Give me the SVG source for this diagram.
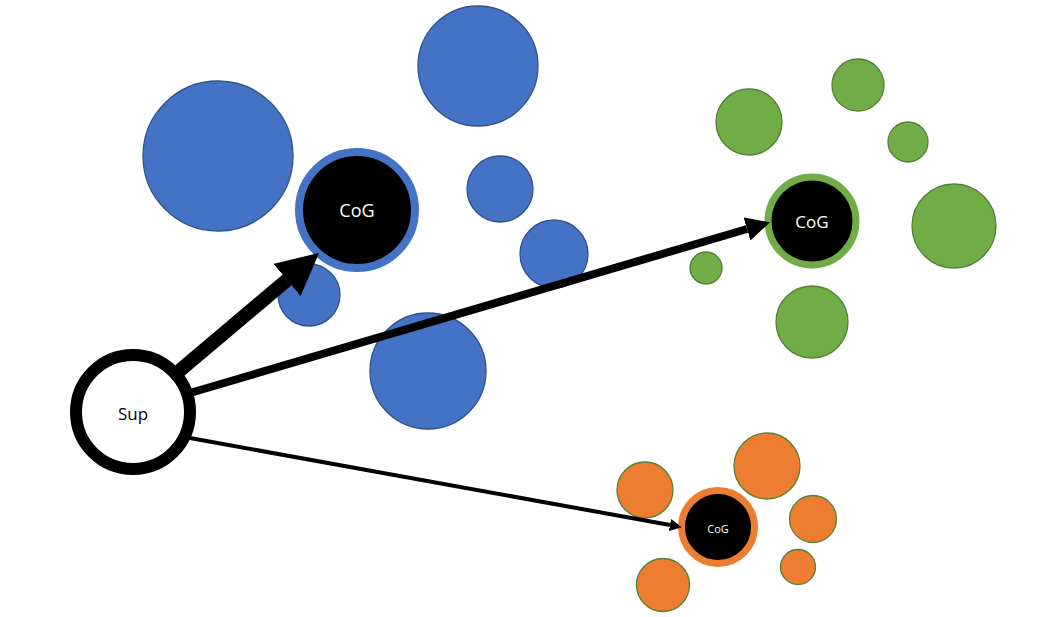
<svg xmlns="http://www.w3.org/2000/svg" width="1041" height="617" viewBox="0 0 1041 617">
<style>
.b{fill:#4472C4;stroke:#2F528F;stroke-width:1.3}
.g{fill:#70AD47;stroke:#507E32;stroke-width:1.3}
.o{fill:#ED7D31;stroke:#548235;stroke-width:1.3}
.cog{fill:#000}
.t{font-family:"Open Sans","Liberation Sans",sans-serif;text-anchor:middle;dominant-baseline:central}
.w{fill:#fff}
.k{fill:#000}
.c{stroke:#000;fill:none;stroke-linecap:butt}
</style>
<defs>
<marker id="ah" viewBox="0 0 3 3" markerWidth="3" markerHeight="3" refX="0" refY="1.5" orient="auto" markerUnits="strokeWidth">
<path d="M0,0 L3,1.5 L0,3 Z" fill="#000"/>
</marker>
</defs>
<g id="blue-cluster">
<circle class="b" cx="218" cy="156" r="75"/>
<circle class="b" cx="478" cy="66" r="60"/>
<circle class="b" cx="500" cy="189" r="33"/>
<circle class="b" cx="554" cy="254" r="34"/>
<circle class="b" cx="309" cy="295" r="31"/>
<circle class="b" cx="428" cy="371" r="58"/>
</g>
<g id="green-cluster">
<circle class="g" cx="749" cy="122" r="33"/>
<circle class="g" cx="858" cy="85" r="26"/>
<circle class="g" cx="908" cy="142" r="20"/>
<circle class="g" cx="954" cy="226" r="42"/>
<circle class="g" cx="812" cy="322" r="36"/>
<circle class="g" cx="706" cy="268" r="16"/>
</g>
<g id="orange-cluster">
<circle class="o" cx="645" cy="490" r="28"/>
<circle class="o" cx="767" cy="466" r="33"/>
<circle class="o" cx="813" cy="519" r="23.5"/>
<circle class="o" cx="798" cy="567" r="17.5"/>
<circle class="o" cx="663" cy="585" r="26.5"/>
</g>
<g id="cog-blue">
<circle class="cog" cx="357" cy="210" r="58" stroke="#4472C4" stroke-width="8"/>
<text class="t w" x="357" y="210" font-size="18">CoG</text>
</g>
<g id="cog-green">
<circle class="cog" cx="812" cy="221" r="44" stroke="#70AD47" stroke-width="7"/>
<text class="t w" x="812" y="221" font-size="17">CoG</text>
</g>
<g id="cog-orange">
<circle class="cog" cx="718" cy="527" r="36.5" stroke="#ED7D31" stroke-width="7"/>
<text class="t w" x="718" y="528" font-size="11">CoG</text>
</g>
<g id="sup">
<circle cx="133" cy="412" r="57" fill="#fff" stroke="#000" stroke-width="12"/>
<text class="t k" x="133" y="413" font-size="17">Sup</text>
</g>
<g id="connectors">
<line class="c" x1="178" y1="372" x2="287" y2="280" stroke-width="14" marker-end="url(#ah)"/>
<line class="c" x1="190" y1="393" x2="747" y2="229" stroke-width="8" marker-end="url(#ah)"/>
<line class="c" x1="190" y1="438" x2="670" y2="525" stroke-width="4" marker-end="url(#ah)"/>
</g>
</svg>
